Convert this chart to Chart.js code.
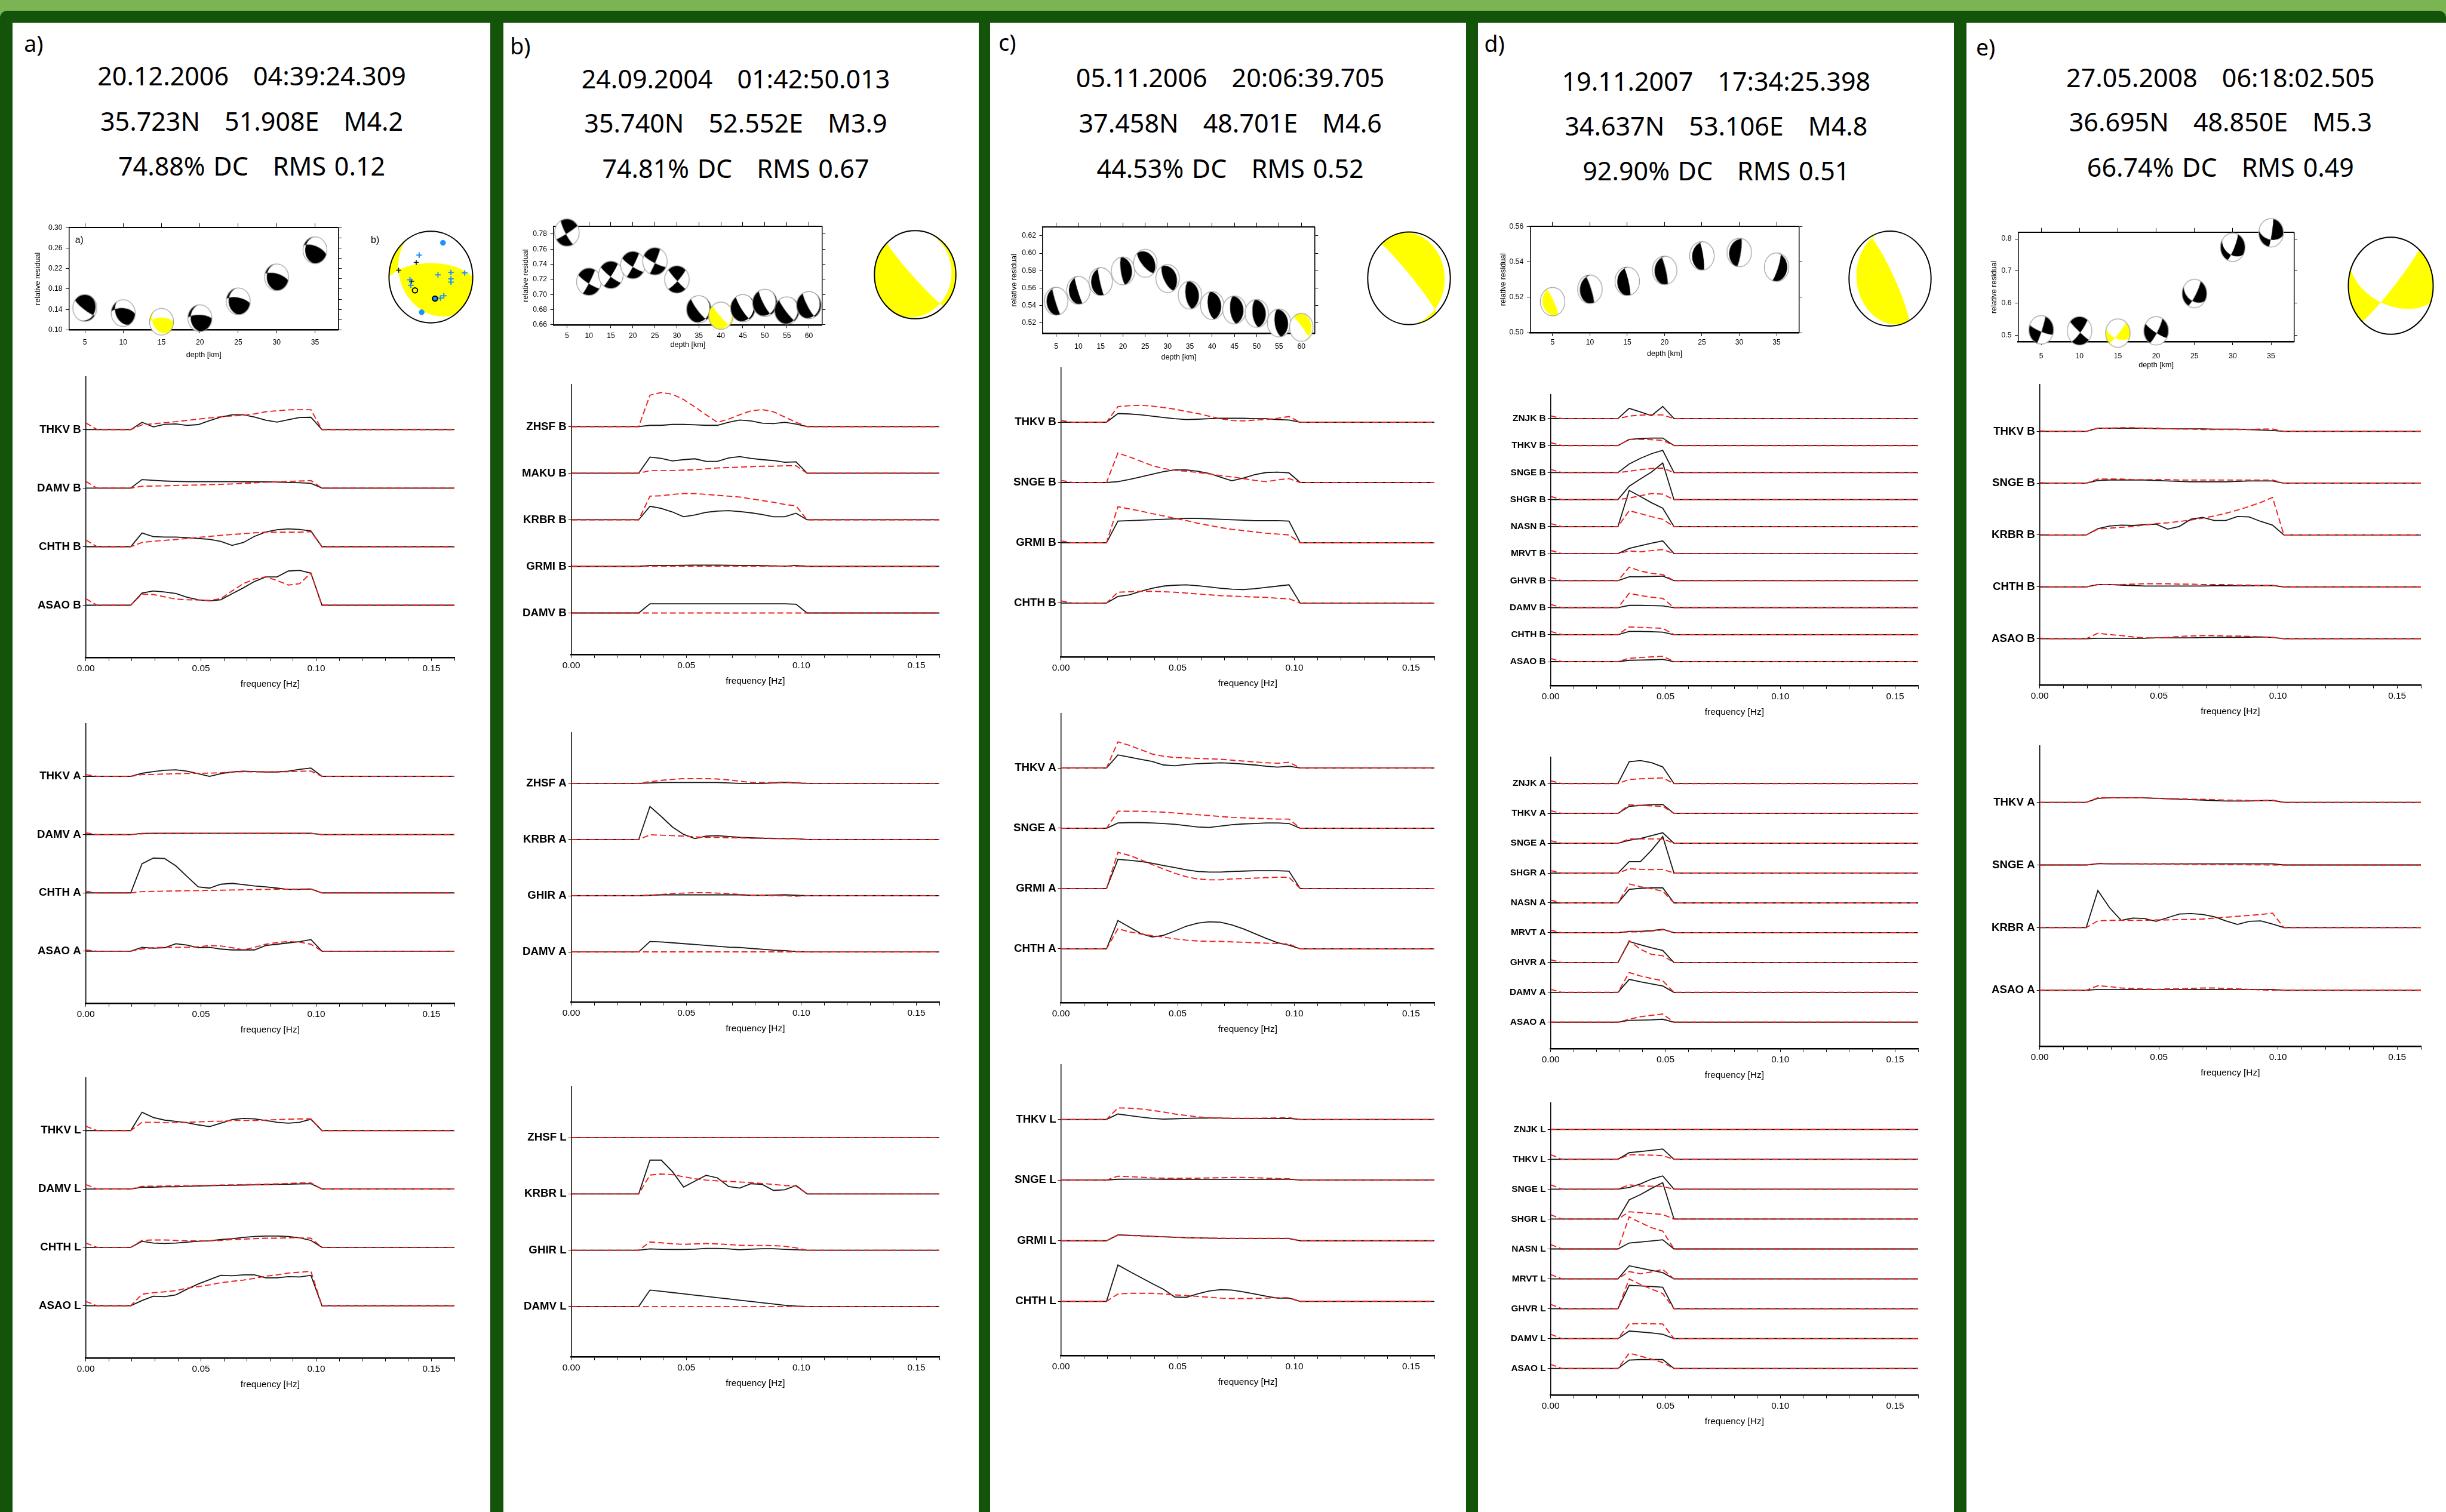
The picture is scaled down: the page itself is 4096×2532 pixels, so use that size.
<!DOCTYPE html>
<html>
<head>
<meta charset="utf-8">
<title>Moment tensor solutions - spectral fits</title>
<script src="https://cdn.jsdelivr.net/npm/chart.js@4.4.1/dist/chart.umd.min.js"></script>
<style>
  html, body { margin: 0; padding: 0; }
  body { width: 4096px; height: 2532px; overflow: hidden; position: relative; background: #7ab453; }
  #bg { position: absolute; left: 0; top: 18px; width: 4096px; height: 2514px; background: #13530a; border-radius: 12px 12px 0 0; }
  .panel { position: absolute; background: #fff; }
  .hdr { position: absolute; white-space: pre; transform: translate(-50%, -50%); color: #000; font-family: "Noto Sans", "Open Sans", sans-serif; word-spacing: 2.5px; }
  .lbl { position: absolute; white-space: pre; transform: translate(0, -50%); color: #000; }
  canvas { position: absolute; }
</style>
</head>
<body>
<div id="bg"></div>
<script>
// =========================================
// DATA
// =========================================

// frequency samples (Hz) of the spectra, plus right end of the axis
const FREQ = [0, 0.0049, 0.0098, 0.0146, 0.0195, 0.0244, 0.0293, 0.0342, 0.0391, 0.0439, 0.0488,
              0.0537, 0.0586, 0.0635, 0.0684, 0.0732, 0.0781, 0.0830, 0.0879, 0.0928, 0.0977, 0.1025];
const F_END = 0.16;

// passband (indices into FREQ) of each event
const BAND_A = [4, 21];
const BAND_B = [6, 21];
const BAND_C = [4, 21];
const BAND_D = [6, 11];
const BAND_E = [4, 21];

// event headers
const PANEL_IDS = ['a)', 'b)', 'c)', 'd)', 'e)'];
const DATES = ['20.12.2006   04:39:24.309', '24.09.2004   01:42:50.013', '05.11.2006   20:06:39.705',
               '19.11.2007   17:34:25.398', '27.05.2008   06:18:02.505'];
const LOCS = ['35.723N   51.908E   M4.2', '35.740N   52.552E   M3.9', '37.458N   48.701E   M4.6',
              '34.637N   53.106E   M4.8', '36.695N   48.850E   M5.3'];
const FITS = ['74.88% DC   RMS 0.12', '74.81% DC   RMS 0.67', '44.53% DC   RMS 0.52',
              '92.90% DC   RMS 0.51', '66.74% DC   RMS 0.49'];

// ---- event a) spectra: observed (black) / synthetic (red), values inside the band ----
const A_B_NAMES = ['THKV B', 'DAMV B', 'CHTH B', 'ASAO B'];
const A_B_OBS = [
  [0.125, 0.047, 0.09, 0.097, 0.072, 0.086, 0.154, 0.215, 0.254, 0.254, 0.215, 0.161, 0.129, 0.168, 0.208, 0.211],
  [0.147, 0.133, 0.122, 0.115, 0.111, 0.111, 0.111, 0.111, 0.11, 0.109, 0.108, 0.108, 0.104, 0.097, 0.093, 0.082],
  [0.233, 0.172, 0.165, 0.165, 0.154, 0.14, 0.125, 0.09, 0.022, 0.072, 0.176, 0.251, 0.29, 0.305, 0.294, 0.269],
  [0.208, 0.244, 0.226, 0.2, 0.136, 0.093, 0.072, 0.093, 0.197, 0.297, 0.405, 0.484, 0.484, 0.584, 0.595, 0.548]
];
const A_B_SYN = [
  [0.082, 0.1, 0.118, 0.136, 0.158, 0.179, 0.2, 0.219, 0.233, 0.244, 0.269, 0.305, 0.323, 0.337, 0.34, 0.34],
  [0.032, 0.036, 0.04, 0.047, 0.05, 0.054, 0.059, 0.065, 0.072, 0.079, 0.09, 0.1, 0.108, 0.115, 0.122, 0.129],
  [0.072, 0.093, 0.108, 0.122, 0.14, 0.158, 0.176, 0.194, 0.208, 0.222, 0.237, 0.247, 0.247, 0.247, 0.247, 0.258],
  [0.19, 0.183, 0.143, 0.104, 0.093, 0.09, 0.082, 0.111, 0.244, 0.369, 0.448, 0.484, 0.423, 0.344, 0.369, 0.548]
];
const A_B_SYN0 = [0.115, 0.115, 0.115, 0.111];

const A_A_NAMES = ['THKV A', 'DAMV A', 'CHTH A', 'ASAO A'];
const A_A_OBS = [
  [0.052, 0.082, 0.104, 0.112, 0.09, 0.045, 0, 0.045, 0.075, 0.09, 0.082, 0.075, 0.075, 0.09, 0.12, 0.142],
  [0.02, 0.022, 0.022, 0.022, 0.022, 0.024, 0.024, 0.024, 0.024, 0.024, 0.024, 0.024, 0.022, 0.022, 0.022, 0.022],
  [0.5, 0.597, 0.59, 0.463, 0.284, 0.104, 0.082, 0.149, 0.164, 0.142, 0.119, 0.104, 0.082, 0.06, 0.06, 0.067],
  [0.067, 0.052, 0.06, 0.127, 0.104, 0.06, 0.067, 0.037, 0.022, 0.022, 0.022, 0.097, 0.119, 0.142, 0.164, 0.2]
];
const A_A_SYN = [
  [0.03, 0.033, 0.04, 0.045, 0.05, 0.052, 0.055, 0.06, 0.075, 0.08, 0.077, 0.075, 0.077, 0.08, 0.088, 0.09],
  [0.015, 0.016, 0.017, 0.017, 0.018, 0.018, 0.018, 0.018, 0.018, 0.02, 0.02, 0.02, 0.02, 0.02, 0.02, 0.022],
  [0.022, 0.026, 0.03, 0.034, 0.037, 0.04, 0.043, 0.046, 0.05, 0.053, 0.056, 0.06, 0.063, 0.064, 0.066, 0.067],
  [0.037, 0.06, 0.067, 0.067, 0.067, 0.075, 0.097, 0.09, 0.06, 0.022, 0.067, 0.119, 0.149, 0.164, 0.157, 0.119]
];
const A_A_SYN0 = [0.03, 0.03, 0.03, 0.02];

const A_L_NAMES = ['THKV L', 'DAMV L', 'CHTH L', 'ASAO L'];
const A_L_OBS = [
  [0.313, 0.224, 0.179, 0.157, 0.134, 0.097, 0.067, 0.127, 0.187, 0.209, 0.2, 0.172, 0.142, 0.127, 0.142, 0.194],
  [0.03, 0.03, 0.037, 0.037, 0.045, 0.052, 0.056, 0.06, 0.064, 0.067, 0.071, 0.075, 0.079, 0.082, 0.086, 0.09],
  [0.104, 0.075, 0.067, 0.075, 0.09, 0.104, 0.112, 0.134, 0.149, 0.172, 0.187, 0.194, 0.194, 0.187, 0.164, 0.119],
  [0.09, 0.164, 0.157, 0.187, 0.284, 0.373, 0.448, 0.522, 0.515, 0.53, 0.53, 0.478, 0.478, 0.5, 0.493, 0.522]
];
const A_L_SYN = [
  [0.142, 0.142, 0.134, 0.134, 0.142, 0.149, 0.157, 0.16, 0.172, 0.172, 0.172, 0.179, 0.187, 0.194, 0.2, 0.2],
  [0.045, 0.047, 0.05, 0.052, 0.055, 0.058, 0.062, 0.067, 0.07, 0.074, 0.078, 0.082, 0.088, 0.094, 0.104, 0.104],
  [0.119, 0.127, 0.127, 0.119, 0.112, 0.112, 0.112, 0.119, 0.134, 0.142, 0.149, 0.157, 0.157, 0.164, 0.164, 0.157],
  [0.2, 0.224, 0.239, 0.261, 0.3, 0.328, 0.358, 0.396, 0.418, 0.44, 0.47, 0.507, 0.53, 0.56, 0.575, 0.59]
];
const A_L_SYN0 = [0.075, 0.075, 0.075, 0.075];

// ---- event b) ----
const B_B_NAMES = ['ZHSF B', 'MAKU B', 'KRBR B', 'GRMI B', 'DAMV B'];
const B_B_OBS = [
  [0.028, 0.028, 0.047, 0.047, 0.038, 0.028, 0.028, 0.094, 0.141, 0.122, 0.075, 0.066, 0.094, 0.056],
  [0.347, 0.319, 0.263, 0.291, 0.31, 0.254, 0.254, 0.329, 0.357, 0.319, 0.291, 0.272, 0.235, 0.244],
  [0.291, 0.244, 0.169, 0.066, 0.103, 0.16, 0.188, 0.197, 0.178, 0.15, 0.113, 0.066, 0.066, 0.141],
  [0.02, 0.02, 0.02, 0.024, 0.028, 0.028, 0.028, 0.024, 0.02, 0.02, 0.016, 0.012, 0.005, 0.02],
  [0.197, 0.197, 0.197, 0.197, 0.197, 0.197, 0.197, 0.197, 0.197, 0.197, 0.197, 0.197, 0.197, 0.188]
];
const B_B_SYN = [
  [0.676, 0.732, 0.695, 0.582, 0.423, 0.254, 0.094, 0.16, 0.254, 0.338, 0.366, 0.319, 0.207, 0.094],
  [0.056, 0.056, 0.056, 0.066, 0.075, 0.094, 0.113, 0.122, 0.131, 0.141, 0.15, 0.15, 0.16, 0.16],
  [0.507, 0.516, 0.545, 0.563, 0.563, 0.545, 0.526, 0.507, 0.488, 0.451, 0.413, 0.376, 0.329, 0.3],
  [0.005, 0.005, 0.005, 0.005, 0.005, 0.005, 0.005, 0.005, 0.005, 0.005, 0.005, 0.005, 0.005, 0.005],
  [0, 0, 0, 0, 0, 0, 0, 0, 0, 0, 0, 0, 0, 0]
];
const B_B_SYN0 = [0, 0, 0, 0, 0];

const B_A_NAMES = ['ZHSF A', 'KRBR A', 'GHIR A', 'DAMV A'];
const B_A_OBS = [
  [0.008, 0.016, 0.016, 0.016, 0.016, 0.016, 0.016, 0.008, 0, 0, 0, 0.008, 0.016, 0.008],
  [0.589, 0.411, 0.225, 0.093, 0.016, 0.062, 0.07, 0.054, 0.039, 0.031, 0.023, 0.016, 0.016, 0.016],
  [0.008, 0.016, 0.016, 0.016, 0.016, 0.016, 0.016, 0.016, 0.016, 0.008, 0.008, 0.012, 0.016, 0.008],
  [0.186, 0.178, 0.163, 0.147, 0.132, 0.116, 0.1, 0.085, 0.078, 0.062, 0.047, 0.031, 0.023, 0.008]
];
const B_A_SYN = [
  [0.031, 0.054, 0.07, 0.085, 0.085, 0.085, 0.078, 0.062, 0.039, 0.016, 0.016, 0.016, 0.023, 0.016],
  [0.085, 0.078, 0.07, 0.062, 0.047, 0.039, 0.039, 0.031, 0.031, 0.023, 0.023, 0.023, 0.016, 0.016],
  [0.008, 0.023, 0.039, 0.047, 0.054, 0.054, 0.047, 0.039, 0.023, 0.008, 0.008, 0, 0, -0.008],
  [0, 0, 0, 0, 0, 0, 0, 0, 0, 0, 0, 0, 0, 0]
];
const B_A_SYN0 = [0, 0, 0, 0];

const B_L_NAMES = ['ZHSF L', 'KRBR L', 'GHIR L', 'DAMV L'];
const B_L_OBS = [
  [0, 0, 0, 0, 0, 0, 0, 0, 0, 0, 0, 0, 0, 0],
  [0.6, 0.6, 0.4, 0.123, 0.227, 0.331, 0.285, 0.131, 0.104, 0.181, 0.169, 0.062, 0.073, 0.15],
  [0.023, 0.015, 0.012, 0.012, 0.019, 0.031, 0.031, 0.023, 0.008, 0.019, 0.027, 0.027, 0.015, 0.008],
  [0.292, 0.27, 0.248, 0.225, 0.202, 0.18, 0.157, 0.135, 0.112, 0.09, 0.067, 0.045, 0.022, 0.008]
];
const B_L_SYN = [
  [0, 0, 0, 0, 0, 0, 0, 0, 0, 0, 0, 0, 0, 0],
  [0.335, 0.354, 0.342, 0.304, 0.269, 0.246, 0.231, 0.223, 0.212, 0.2, 0.185, 0.169, 0.15, 0.138],
  [0.146, 0.131, 0.115, 0.104, 0.112, 0.119, 0.112, 0.1, 0.088, 0.085, 0.085, 0.081, 0.069, 0.042],
  [0, 0, 0, 0, 0, 0, 0, 0, 0, 0, 0, 0, 0, 0]
];
const B_L_SYN0 = [0, 0, 0, 0];

// ---- event c) ----
const C_B_NAMES = ['THKV B', 'SNGE B', 'GRMI B', 'CHTH B'];
const C_B_OBS = [
  [0.144, 0.137, 0.123, 0.1, 0.079, 0.058, 0.043, 0.05, 0.058, 0.065, 0.065, 0.065, 0.058, 0.058, 0.043, 0.036],
  [0.014, 0.05, 0.094, 0.137, 0.18, 0.209, 0.209, 0.187, 0.151, 0.087, 0.029, 0.072, 0.13, 0.166, 0.173, 0.159],
  [0.36, 0.368, 0.375, 0.382, 0.39, 0.397, 0.404, 0.404, 0.397, 0.39, 0.382, 0.375, 0.368, 0.368, 0.368, 0.36],
  [0.108, 0.137, 0.195, 0.245, 0.281, 0.296, 0.303, 0.288, 0.267, 0.245, 0.231, 0.224, 0.238, 0.26, 0.281, 0.303]
];
const C_B_SYN = [
  [0.26, 0.274, 0.281, 0.267, 0.245, 0.216, 0.18, 0.144, 0.1, 0.058, 0.029, 0.022, 0.036, 0.043, 0.065, 0.094],
  [0.49, 0.425, 0.353, 0.281, 0.231, 0.202, 0.187, 0.166, 0.144, 0.115, 0.094, 0.065, 0.036, 0.014, 0.043, 0.065],
  [0.598, 0.562, 0.526, 0.483, 0.447, 0.404, 0.368, 0.324, 0.288, 0.252, 0.224, 0.202, 0.18, 0.159, 0.144, 0.13],
  [0.18, 0.187, 0.195, 0.195, 0.187, 0.18, 0.166, 0.151, 0.137, 0.123, 0.115, 0.108, 0.1, 0.094, 0.079, 0.072]
];
const C_B_SYN0 = [0.03, 0.036, 0.03, 0.036];

const C_A_NAMES = ['THKV A', 'SNGE A', 'GRMI A', 'CHTH A'];
const C_A_OBS = [
  [0.217, 0.18, 0.144, 0.108, 0.05, 0.036, 0.058, 0.072, 0.079, 0.087, 0.079, 0.065, 0.05, 0.029, 0.014, 0.029],
  [0.087, 0.094, 0.094, 0.087, 0.079, 0.065, 0.043, 0.022, 0.014, 0.036, 0.058, 0.072, 0.079, 0.087, 0.087, 0.079],
  [0.484, 0.469, 0.448, 0.419, 0.383, 0.347, 0.31, 0.282, 0.274, 0.274, 0.282, 0.289, 0.296, 0.296, 0.296, 0.289],
  [0.469, 0.361, 0.253, 0.195, 0.224, 0.296, 0.375, 0.426, 0.448, 0.44, 0.397, 0.332, 0.253, 0.173, 0.101, 0.06]
];
const C_A_SYN = [
  [0.433, 0.375, 0.303, 0.231, 0.195, 0.173, 0.166, 0.159, 0.152, 0.144, 0.13, 0.115, 0.1, 0.087, 0.079, 0.094],
  [0.282, 0.282, 0.282, 0.274, 0.267, 0.253, 0.238, 0.224, 0.21, 0.195, 0.18, 0.173, 0.166, 0.159, 0.152, 0.152],
  [0.6, 0.549, 0.477, 0.397, 0.325, 0.253, 0.195, 0.159, 0.144, 0.144, 0.159, 0.166, 0.173, 0.18, 0.188, 0.188],
  [0.332, 0.282, 0.245, 0.217, 0.195, 0.166, 0.144, 0.13, 0.123, 0.123, 0.115, 0.108, 0.101, 0.094, 0.087, 0.079]
];
const C_A_SYN0 = [0, 0, 0, 0];

const C_L_NAMES = ['THKV L', 'SNGE L', 'GRMI L', 'CHTH L'];
const C_L_OBS = [
  [0.09, 0.065, 0.039, 0.018, 0.004, 0.011, 0.018, 0.022, 0.025, 0.022, 0.018, 0.014, 0.014, 0.014, 0.014, 0.018],
  [0.014, 0.016, 0.016, 0.016, 0.014, 0.014, 0.012, 0.012, 0.012, 0.012, 0.012, 0.012, 0.012, 0.012, 0.014, 0.016],
  [0.097, 0.09, 0.082, 0.072, 0.065, 0.057, 0.05, 0.047, 0.043, 0.039, 0.039, 0.039, 0.039, 0.039, 0.039, 0.036],
  [0.6, 0.495, 0.394, 0.294, 0.2, 0.072, 0.065, 0.125, 0.172, 0.194, 0.186, 0.158, 0.122, 0.086, 0.054, 0.054]
];
const C_L_SYN = [
  [0.19, 0.186, 0.172, 0.15, 0.122, 0.09, 0.065, 0.043, 0.029, 0.025, 0.018, 0.018, 0.018, 0.022, 0.025, 0.029],
  [0.065, 0.057, 0.047, 0.036, 0.032, 0.029, 0.032, 0.032, 0.036, 0.039, 0.043, 0.043, 0.039, 0.032, 0.025, 0.022],
  [0.093, 0.086, 0.079, 0.072, 0.065, 0.057, 0.05, 0.047, 0.043, 0.043, 0.039, 0.039, 0.039, 0.039, 0.039, 0.039],
  [0.122, 0.133, 0.133, 0.133, 0.122, 0.107, 0.097, 0.082, 0.068, 0.054, 0.047, 0.047, 0.05, 0.054, 0.061, 0.061]
];
const C_L_SYN0 = [0, 0, 0, 0];

// ---- event d) ----
const D_B_NAMES = ['ZNJK B', 'THKV B', 'SNGE B', 'SHGR B', 'NASN B', 'MRVT B', 'GHVR B', 'DAMV B', 'CHTH B', 'ASAO B'];
const D_B_OBS = [
  [0.379, 0.244, 0.11, 0.447], [0.227, 0.261, 0.278, 0.278], [0.32, 0.53, 0.7, 0.826], [0.497, 0.767, 1.02, 1.356],
  [1.34, 1.112, 0.885, 0.682], [0.194, 0.295, 0.388, 0.472], [0.143, 0.143, 0.152, 0.168], [0.084, 0.084, 0.076, 0.067],
  [0.118, 0.118, 0.11, 0.093], [0.05, 0.059, 0.067, 0.084]
];
const D_B_SYN = [
  [0.093, 0.126, 0.143, 0.135], [0.227, 0.227, 0.219, 0.194], [0.05, 0.11, 0.152, 0.168], [0.059, 0.143, 0.227, 0.202],
  [0.59, 0.48, 0.37, 0.27], [0.101, 0.067, 0.11, 0.152], [0.497, 0.354, 0.27, 0.227], [0.531, 0.446, 0.388, 0.345],
  [0.286, 0.27, 0.253, 0.236], [0.126, 0.152, 0.177, 0.202]
];
const D_B_SYN0 = [0.1, 0.11, 0.118, 0.118, 0.11, 0.118, 0.118, 0.118, 0.118, 0.118];

const D_A_NAMES = ['ZNJK A', 'THKV A', 'SNGE A', 'SHGR A', 'NASN A', 'MRVT A', 'GHVR A', 'DAMV A', 'ASAO A'];
const D_A_OBS = [
  [0.735, 0.773, 0.704, 0.559], [0.237, 0.268, 0.291, 0.3], [0.1, 0.161, 0.253, 0.352], [0.383, 0.383, 0.766, 1.225],
  [0.452, 0.49, 0.505, 0.505], [0.046, 0.046, 0.069, 0.115], [0.704, 0.597, 0.498, 0.406], [0.436, 0.352, 0.283, 0.214],
  [0.061, 0.069, 0.077, 0.1]
];
const D_A_SYN = [
  [0.138, 0.161, 0.176, 0.191], [0.291, 0.268, 0.253, 0.237], [0.145, 0.145, 0.145, 0.145], [0.145, 0.122, 0.115, 0.122],
  [0.636, 0.544, 0.475, 0.39], [0.03, 0.03, 0.054, 0.1], [0.735, 0.444, 0.276, 0.23], [0.666, 0.551, 0.467, 0.39],
  [0.1, 0.184, 0.23, 0.276]
];
const D_A_SYN0 = [0.092, 0.092, 0.084, 0.084, 0.092, 0.084, 0.092, 0.1, 0];

const D_L_NAMES = ['ZNJK L', 'THKV L', 'SNGE L', 'SHGR L', 'NASN L', 'MRVT L', 'GHVR L', 'DAMV L', 'ASAO L'];
const D_L_OBS = [
  [0, 0, 0, 0], [0.222, 0.26, 0.298, 0.344], [0.054, 0.176, 0.337, 0.444], [0.643, 0.819, 1.025, 1.217],
  [0.199, 0.23, 0.268, 0.306], [0.436, 0.36, 0.283, 0.207], [0.78, 0.765, 0.742, 0.719], [0.252, 0.222, 0.191, 0.145],
  [0.283, 0.298, 0.298, 0.298]
];
const D_L_SYN = [
  [0, 0, 0, 0], [0.153, 0.145, 0.138, 0.122], [0.145, 0.107, 0.1, 0.092], [0.245, 0.214, 0.184, 0.153],
  [1.071, 0.88, 0.712, 0.597], [0.245, 0.168, 0.23, 0.314], [0.995, 0.811, 0.658, 0.505], [0.49, 0.505, 0.497, 0.49],
  [0.513, 0.413, 0.314, 0.199]
];
const D_L_SYN0 = [0, 0.153, 0.145, 0.145, 0.145, 0.145, 0.145, 0.145, 0.138];

// ---- event e) ----
const E_B_NAMES = ['THKV B', 'SNGE B', 'KRBR B', 'CHTH B', 'ASAO B'];
const E_B_OBS = [
  [0.061, 0.061, 0.061, 0.061, 0.061, 0.052, 0.048, 0.048, 0.048, 0.048, 0.044, 0.044, 0.044, 0.035, 0.026, 0.017],
  [0.052, 0.061, 0.061, 0.061, 0.061, 0.052, 0.044, 0.035, 0.026, 0.026, 0.026, 0.026, 0.035, 0.044, 0.044, 0.044],
  [0.122, 0.175, 0.192, 0.184, 0.2, 0.21, 0.114, 0.166, 0.306, 0.341, 0.28, 0.28, 0.359, 0.35, 0.262, 0.192],
  [0.044, 0.044, 0.035, 0.026, 0.017, 0.017, 0.017, 0.017, 0.017, 0.017, 0.022, 0.022, 0.022, 0.022, 0.026, 0.026],
  [0.009, 0.009, 0.009, 0.009, 0.009, 0.017, 0.017, 0.017, 0.017, 0.022, 0.026, 0.026, 0.026, 0.03, 0.035, 0.026]
];
const E_B_SYN = [
  [0.061, 0.061, 0.07, 0.07, 0.061, 0.061, 0.052, 0.044, 0.044, 0.035, 0.035, 0.035, 0.035, 0.035, 0.044, 0.044],
  [0.079, 0.079, 0.079, 0.07, 0.07, 0.07, 0.07, 0.061, 0.061, 0.061, 0.061, 0.061, 0.061, 0.061, 0.061, 0.061],
  [0.114, 0.131, 0.149, 0.166, 0.192, 0.219, 0.236, 0.262, 0.289, 0.324, 0.367, 0.42, 0.481, 0.551, 0.63, 0.726],
  [0.044, 0.044, 0.044, 0.052, 0.061, 0.061, 0.061, 0.052, 0.052, 0.044, 0.044, 0.044, 0.035, 0.035, 0.026, 0.026],
  [0.105, 0.079, 0.061, 0.035, 0.017, 0.017, 0.026, 0.044, 0.052, 0.061, 0.061, 0.052, 0.052, 0.044, 0.035, 0.026]
];
const E_B_SYN0 = [0.01, 0.01, 0.01, 0.01, 0.01];

const E_A_NAMES = ['THKV A', 'SNGE A', 'KRBR A', 'ASAO A'];
const E_A_OBS = [
  [0.065, 0.072, 0.072, 0.072, 0.072, 0.065, 0.058, 0.05, 0.043, 0.036, 0.029, 0.022, 0.022, 0.022, 0.029, 0.029],
  [0.022, 0.018, 0.018, 0.018, 0.018, 0.018, 0.018, 0.018, 0.018, 0.018, 0.018, 0.018, 0.018, 0.018, 0.018, 0.018],
  [0.593, 0.318, 0.116, 0.152, 0.145, 0.101, 0.159, 0.217, 0.224, 0.21, 0.174, 0.108, 0.051, 0.101, 0.108, 0.058],
  [0.014, 0.014, 0.014, 0.014, 0.014, 0.014, 0.014, 0.014, 0.014, 0.014, 0.014, 0.014, 0.014, 0.014, 0.014, 0.014]
];
const E_A_SYN = [
  [0.072, 0.072, 0.072, 0.072, 0.072, 0.065, 0.058, 0.058, 0.05, 0.05, 0.043, 0.036, 0.036, 0.029, 0.029, 0.036],
  [0.022, 0.02, 0.02, 0.018, 0.016, 0.014, 0.013, 0.012, 0.01, 0.008, 0.007, 0.006, 0.004, 0.003, 0.002, 0],
  [0.108, 0.116, 0.116, 0.116, 0.116, 0.123, 0.123, 0.13, 0.13, 0.137, 0.152, 0.166, 0.181, 0.195, 0.21, 0.231],
  [0.072, 0.058, 0.036, 0.029, 0.022, 0.014, 0.022, 0.022, 0.029, 0.036, 0.036, 0.029, 0.022, 0.014, 0.007, 0]
];
const E_A_SYN0 = [0, 0, 0, 0];

// ---- depth tests: depth (km), relative residual, best depth ----
const DEPTH_A = [5, 10, 15, 20, 25, 30, 35];
const RESID_A = [0.143, 0.133, 0.116, 0.123, 0.156, 0.203, 0.256];
const BEST_A = 15;
const DEPTH_B = [5, 10, 15, 20, 25, 30, 35, 40, 45, 50, 55, 60];
const RESID_B = [0.782, 0.717, 0.726, 0.739, 0.744, 0.72, 0.6805, 0.672, 0.682, 0.689, 0.679, 0.686];
const BEST_B = 40;
const DEPTH_C = [5, 10, 15, 20, 25, 30, 35, 40, 45, 50, 55, 60];
const RESID_C = [0.545, 0.5575, 0.5675, 0.5797, 0.5885, 0.571, 0.552, 0.54, 0.535, 0.531, 0.52, 0.515];
const BEST_C = 60;
const DEPTH_D = [5, 10, 15, 20, 25, 30, 35];
const RESID_D = [0.5175, 0.5245, 0.529, 0.5352, 0.5434, 0.5453, 0.537];
const BEST_D = 5;
const DEPTH_E = [5, 10, 15, 20, 25, 30, 35];
const RESID_E = [0.517, 0.514, 0.507, 0.514, 0.63, 0.774, 0.819];
const BEST_E = 15;

// ---- mechanisms: [strike1, dip1, strike2, dip2, x, y of a point inside the filled quadrant] ----
const MECH_A = [[125, 80, 30, 15, 0.4, 0.4], [275, 60, 150, 40, 0.3, -0.3], [270, 65, 144, 31, 0.2, -0.3],
  [272, 70, 175, 25, 0.3, -0.3], [280, 68, 175, 22, 0.3, -0.3], [285, 68, 175, 20, 0.3, -0.3], [290, 65, 180, 20, 0.3, -0.3]];
const MECH_B = [[150, 80, 60, 85, 0.3, 0.3], [30, 85, 120, 80, 0, 0.5], [35, 85, 125, 80, 0, 0.5], [30, 85, 120, 80, 0, 0.5],
  [25, 85, 115, 80, 0, 0.5], [45, 80, 135, 85, 0, 0.5], [140, 80, 30, 15, -0.4, 0], [136, 85, 20, 13, -0.4, 0],
  [145, 80, 25, 15, -0.4, 0], [150, 80, 30, 15, -0.4, 0], [140, 82, 20, 12, -0.4, 0], [150, 80, 30, 15, -0.4, 0]];
const MECH_C = [[160, 85, 180, 20, -0.3, 0], [160, 85, 180, 20, -0.3, 0], [165, 85, 185, 20, -0.3, 0.1], [170, 75, 350, 25, 0.1, 0],
  [135, 70, 315, 25, 0.2, 0.2], [150, 65, 330, 25, 0.2, 0.1], [170, 60, 350, 25, 0.2, 0], [170, 60, 350, 25, 0.2, 0],
  [172, 60, 352, 25, 0.2, 0], [172, 60, 352, 25, 0.2, 0], [170, 60, 350, 25, 0.2, 0], [318, 85, 355, 15, 0.3, 0.2]];
const MECH_D = [[332, 82, 165, 20, -0.3, 0], [340, 82, 190, 20, -0.2, 0], [345, 82, 190, 20, -0.2, 0], [345, 82, 190, 20, -0.2, 0],
  [350, 82, 190, 22, -0.2, 0], [10, 80, 200, 20, -0.1, 0], [20, 80, 0, 15, 0.3, -0.3]];
const MECH_E = [[20, 85, 110, 80, 0.5, -0.1], [40, 80, 130, 85, 0, 0.5], [42, 85, 110, 57, 0.4, 0], [30, 80, 120, 80, 0.4, 0.3],
  [30, 80, 120, 45, 0.4, -0.3], [25, 80, 120, 45, 0.4, -0.3], [10, 85, 100, 50, 0.4, 0]];
const FOCAL = [[270, 65, 144, 31, 0.2, -0.3], [136, 85, 20, 13, -0.4, 0], [318, 85, 355, 15, 0.3, 0.2],
  [332, 82, 165, 20, -0.3, 0], [42, 85, 110, 57, 0.4, 0]];

// station symbols on the focal sphere of event a)
const A_BLUE_DOTS = [[0.29, 0.75], [0.1, -0.47], [-0.22, -0.77]];
const A_BLUE_CROSSES = [[-0.28, 0.48], [-0.5, -0.06], [-0.48, -0.18], [0.17, 0.05], [0.48, 0.1], [0.48, -0.04],
  [0.48, -0.11], [0.81, 0.09], [0.23, -0.46], [0.31, -0.41]];
const A_BLACK_CROSSES = [[-0.35, 0.32], [-0.77, 0.15], [-0.46, -0.09]];
const A_OPEN_CIRCLES = [[-0.38, -0.29], [0.1, -0.47]];

// =========================================
// LAYOUT (reference pixels, scaled by S)
// =========================================
const S = 4096 / 4382;
const YELLOW = '#ffff00';
const PANEL_X = [[23, 878], [902, 1753], [1774, 2626], [2648, 3501], [3523, 4400]];
const PANEL_TOP = 41;
const HDR_X = [451, 1318, 2204, 3074.5, 3978];
const HDR_Y = [[135, 216, 296], [140, 219.5, 300.5], [138, 219.5, 300.5], [144, 225, 304.5], [138, 217.5, 298.5]];
const ID_POS = [[43, 77], [914, 81], [1789, 75], [2659, 77], [3540, 83]];

const GROUPS = [
  {names: A_B_NAMES, obs: A_B_OBS, syn: A_B_SYN, syn0: A_B_SYN0, band: BAND_A, x0: 154, x1: 814, top: 666, axis: 1178, fs: 20},
  {names: A_A_NAMES, obs: A_A_OBS, syn: A_A_SYN, syn0: A_A_SYN0, band: BAND_A, x0: 154, x1: 814, top: 1288, axis: 1798.5, fs: 20},
  {names: A_L_NAMES, obs: A_L_OBS, syn: A_L_SYN, syn0: A_L_SYN0, band: BAND_A, x0: 154, x1: 814, top: 1922, axis: 2433, fs: 20},
  {names: B_B_NAMES, obs: B_B_OBS, syn: B_B_SYN, syn0: B_B_SYN0, band: BAND_B, x0: 1024, x1: 1683, top: 680, axis: 1172.5, fs: 20},
  {names: B_A_NAMES, obs: B_A_OBS, syn: B_A_SYN, syn0: B_A_SYN0, band: BAND_B, x0: 1024, x1: 1683, top: 1304, axis: 1796, fs: 20},
  {names: B_L_NAMES, obs: B_L_OBS, syn: B_L_SYN, syn0: B_L_SYN0, band: BAND_B, x0: 1024, x1: 1683, top: 1938, axis: 2430.7, fs: 20},
  {names: C_B_NAMES, obs: C_B_OBS, syn: C_B_SYN, syn0: C_B_SYN0, band: BAND_C, x0: 1901, x1: 2570, top: 650, axis: 1177, fs: 20},
  {names: C_A_NAMES, obs: C_A_OBS, syn: C_A_SYN, syn0: C_A_SYN0, band: BAND_C, x0: 1901, x1: 2570, top: 1270, axis: 1797.5, fs: 20},
  {names: C_L_NAMES, obs: C_L_OBS, syn: C_L_SYN, syn0: C_L_SYN0, band: BAND_C, x0: 1901, x1: 2570, top: 1898.5, axis: 2428.3, fs: 20},
  {names: D_B_NAMES, obs: D_B_OBS, syn: D_B_SYN, syn0: D_B_SYN0, band: BAND_D, x0: 2778, x1: 3436, top: 700, axis: 1229, fs: 16.5},
  {names: D_A_NAMES, obs: D_A_OBS, syn: D_A_SYN, syn0: D_A_SYN0, band: BAND_D, x0: 2778, x1: 3436, top: 1349, axis: 1879, fs: 16.5},
  {names: D_L_NAMES, obs: D_L_OBS, syn: D_L_SYN, syn0: D_L_SYN0, band: BAND_D, x0: 2778, x1: 3436, top: 1969, axis: 2500, fs: 16.5},
  {names: E_B_NAMES, obs: E_B_OBS, syn: E_B_SYN, syn0: E_B_SYN0, band: BAND_E, x0: 3654, x1: 4337, top: 680, axis: 1227, fs: 20},
  {names: E_A_NAMES, obs: E_A_OBS, syn: E_A_SYN, syn0: E_A_SYN0, band: BAND_E, x0: 3654, x1: 4337, top: 1328, axis: 1875.5, fs: 20}
];

const DEPTH_PLOTS = [
  {depth: DEPTH_A, resid: RESID_A, mech: MECH_A, best: BEST_A, l: 124, r: 606, t: 408, b: 591, xMin: 2.96, xMax: 38.05,
   yMin: 0.1, yMax: 0.3, yStep: 0.02, dec: 2, titleGap: 56, labOff: 22, titleOff: 45, brx: 21.5, bry: 24},
  {depth: DEPTH_B, resid: RESID_B, mech: MECH_B, best: BEST_B, l: 992, r: 1473, t: 406, b: 582.5, xMin: 2, xMax: 63,
   yMin: 0.66, yMax: 0.79, yStep: 0.02, dec: 2, titleGap: 50, labOff: 19, titleOff: 36, brx: 22, bry: 24.5},
  {depth: DEPTH_C, resid: RESID_C, mech: MECH_C, best: BEST_C, l: 1868, r: 2355, t: 406.5, b: 597, xMin: 2, xMax: 63,
   yMin: 0.508, yMax: 0.63, yStep: 0.02, dec: 2, titleGap: 51, labOff: 23, titleOff: 43, brx: 21, bry: 25},
  {depth: DEPTH_D, resid: RESID_D, mech: MECH_D, best: BEST_D, l: 2741, r: 3223, t: 406, b: 596, xMin: 2, xMax: 38,
   yMin: 0.5, yMax: 0.56, yStep: 0.02, dec: 2, titleGap: 48, labOff: 17, titleOff: 38, brx: 22, bry: 25.5},
  {depth: DEPTH_E, resid: RESID_E, mech: MECH_E, best: BEST_E, l: 3615.5, r: 4110, t: 416, b: 612, xMin: 2, xMax: 38,
   yMin: 0.48, yMax: 0.82, yStep: 0.1, dec: 1, titleGap: 43, labOff: 25, titleOff: 42, brx: 22, bry: 25.5}
];

const FOCAL_POS = [
  {cx: 772, cy: 497, rx: 75, ry: 82}, {cx: 1640, cy: 492, rx: 73, ry: 79}, {cx: 2524, cy: 499, rx: 74, ry: 83},
  {cx: 3386, cy: 499, rx: 73.5, ry: 85}, {cx: 4283, cy: 512, rx: 76, ry: 87}
];

// =========================================
// HELPERS
// =========================================
Chart.defaults.font.family = "'Liberation Sans', Arial, sans-serif";
Chart.defaults.color = '#000';

function addDiv(cls, x, y, text, size) {
  const d = document.createElement('div');
  d.className = cls;
  d.style.left = (x * S) + 'px';
  d.style.top = (y * S) + 'px';
  d.style.fontSize = (size * S) + 'px';
  d.textContent = text;
  document.body.appendChild(d);
  return d;
}

function addCanvas(x, y, w, h) {
  const c = document.createElement('canvas');
  c.width = Math.round(w);
  c.height = Math.round(h);
  c.style.left = Math.round(x) + 'px';
  c.style.top = Math.round(y) + 'px';
  c.style.width = c.width + 'px';
  c.style.height = c.height + 'px';
  document.body.appendChild(c);
  return c;
}

// spectrum polyline: flat baseline outside the band
function tracePoints(band, vals, v0, base) {
  const pts = [{x: FREQ[0], y: base + v0}, {x: FREQ[1], y: base}, {x: FREQ[band[0]], y: base}];
  vals.forEach((v, j) => pts.push({x: FREQ[band[0] + 1 + j], y: base + v}));
  pts.push({x: FREQ[band[1]], y: base}, {x: F_END, y: base});
  return pts;
}

// beach ball (lower hemisphere, equal area) as a point style image
function planeNormal(strike, dip) {
  const s = strike * Math.PI / 180, d = dip * Math.PI / 180;
  return [-Math.sin(d) * Math.sin(s), Math.sin(d) * Math.cos(s), -Math.cos(d)];
}
function quadrant(n1, n2, px, py) {
  const r = Math.min(1, Math.sqrt(px * px + py * py));
  const inc = 2 * Math.asin(r / Math.SQRT2);
  const az = Math.atan2(px, py);
  const v = [Math.sin(inc) * Math.cos(az), Math.sin(inc) * Math.sin(az), Math.cos(inc)];
  const a = n1[0] * v[0] + n1[1] * v[1] + n1[2] * v[2];
  const b = n2[0] * v[0] + n2[1] * v[1] + n2[2] * v[2];
  return a * b;
}
function ballCanvas(mech, rx, ry, fill, edge, edgeW) {
  const SS = 3;
  const W = Math.ceil(2 * rx) + 4, H = Math.ceil(2 * ry) + 4;
  const big = document.createElement('canvas');
  big.width = W * SS; big.height = H * SS;
  const g = big.getContext('2d');
  const img = g.createImageData(big.width, big.height);
  const n1 = planeNormal(mech[0], mech[1]), n2 = planeNormal(mech[2], mech[3]);
  const ref = Math.sign(quadrant(n1, n2, mech[4], mech[5]));
  const col = fill === YELLOW ? [255, 255, 0] : [0, 0, 0];
  const cx = big.width / 2, cy = big.height / 2;
  for (let j = 0; j < big.height; j++) {
    for (let i = 0; i < big.width; i++) {
      const px = (i + 0.5 - cx) / (rx * SS), py = -(j + 0.5 - cy) / (ry * SS);
      if (px * px + py * py > 1) continue;
      const k = (j * big.width + i) * 4;
      const on = Math.sign(quadrant(n1, n2, px, py)) === ref;
      img.data[k] = on ? col[0] : 255;
      img.data[k + 1] = on ? col[1] : 255;
      img.data[k + 2] = on ? col[2] : 255;
      img.data[k + 3] = 255;
    }
  }
  g.putImageData(img, 0, 0);
  const c = document.createElement('canvas');
  c.width = W; c.height = H;
  const ctx = c.getContext('2d');
  ctx.imageSmoothingEnabled = true;
  ctx.imageSmoothingQuality = 'high';
  ctx.drawImage(big, 0, 0, W, H);
  ctx.beginPath();
  ctx.ellipse(W / 2, H / 2, rx, ry, 0, 0, 2 * Math.PI);
  ctx.lineWidth = edgeW;
  ctx.strokeStyle = edge;
  ctx.stroke();
  return c;
}

const BASE_OPTS = {
  responsive: false, animation: false, devicePixelRatio: 1,
  plugins: {legend: {display: false}, tooltip: {enabled: false}}
};

// =========================================
// CHARTS
// =========================================
function spectraChart(g) {
  const n = g.names.length;
  const LW = 112 * S, BH = 57 * S, TP = 6, RP = 14;
  const cv = addCanvas(g.x0 * S - LW, g.top * S - TP, (g.x1 - g.x0) * S + LW + RP, (g.axis - g.top) * S + TP + BH);
  const datasets = [];
  g.names.forEach((nm, i) => {
    const base = n - i;
    datasets.push({data: tracePoints(g.band, g.syn[i], g.syn0[i], base), showLine: true, pointRadius: 0,
                   borderColor: '#ee1d1d', borderWidth: 1.9, borderDash: [10, 5], order: 0});
    datasets.push({data: tracePoints(g.band, g.obs[i], 0, base), showLine: true, pointRadius: 0,
                   borderColor: '#151515', borderWidth: 1.8, order: 1});
  });
  new Chart(cv, {
    type: 'scatter',
    data: {datasets},
    options: {
      ...BASE_OPTS,
      layout: {padding: {top: TP, right: RP, left: 0, bottom: 0}, autoPadding: false},
      scales: {
        x: {
          type: 'linear', min: 0, max: F_END,
          afterFit: (sc) => { sc.height = BH; },
          ticks: {stepSize: 0.01, autoSkip: false, maxRotation: 0, padding: 4, font: {size: 15.4},
                  callback: (v) => { const c = Math.round(v * 100); return c % 5 === 0 ? (c / 100).toFixed(2) : ''; }},
          grid: {drawOnChartArea: false, tickLength: 5, color: '#000', lineWidth: 1},
          border: {color: '#000', width: 2.5},
          title: {display: true, text: 'frequency [Hz]', font: {size: 15.4}, padding: {top: 0, bottom: 0}}
        },
        y: {
          type: 'linear', min: 0.1, max: n + 0.9,
          afterFit: (sc) => { sc.width = LW; },
          afterBuildTicks: (sc) => { sc.ticks = g.names.map((_, i) => ({value: i + 1})); },
          ticks: {padding: 3, font: {size: g.fs * S, weight: 'bold'}, callback: (v) => g.names[n - Math.round(v)]},
          grid: {drawOnChartArea: false, tickLength: 5, color: '#000'},
          border: {color: '#000', width: 1.5}
        }
      }
    }
  });
}

function depthChart(L) {
  const LW = (L.titleGap + 8) * S, TH = 42 * S, RW = 24 * S, BH = (L.titleOff + 8) * S;
  const cv = addCanvas(L.l * S - LW, L.t * S - TH, (L.r - L.l) * S + LW + RW, (L.b - L.t) * S + TH + BH);
  const balls = L.depth.map((d, i) => ballCanvas(L.mech[i], L.brx * S, L.bry * S, d === L.best ? YELLOW : '#000', '#9c9c9c', 1.2));
  const tickFont = {size: 13 * S};
  const ySc = {min: L.yMin, max: L.yMax};
  const xSc = {min: L.xMin, max: L.xMax};
  new Chart(cv, {
    type: 'scatter',
    data: {datasets: [{data: L.depth.map((d, i) => ({x: d, y: L.resid[i]})), pointStyle: balls,
                       pointRadius: L.brx * S, clip: false}]},
    options: {
      ...BASE_OPTS,
      layout: {padding: 0, autoPadding: false},
      scales: {
        x: {type: 'linear', position: 'bottom', ...xSc, afterFit: (sc) => { sc.height = BH; },
            ticks: {stepSize: 5, includeBounds: false, autoSkip: false, maxRotation: 0,
                    padding: Math.max(1, (L.labOff - 6 - 7) * S), font: tickFont},
            grid: {drawOnChartArea: false, tickLength: 6 * S, color: '#000'},
            border: {color: '#000', width: 2.5},
            title: {display: true, text: 'depth [km]', font: {size: 13.5 * S}, padding: 0}},
        xt: {type: 'linear', position: 'top', ...xSc, afterFit: (sc) => { sc.height = TH; },
             ticks: {display: false, stepSize: 5, includeBounds: false},
             grid: {drawOnChartArea: false, tickLength: 8 * S, color: '#000'},
             border: {color: '#000', width: 2}},
        y: {type: 'linear', position: 'left', ...ySc, afterFit: (sc) => { sc.width = LW; },
            ticks: {stepSize: L.yStep, includeBounds: false, padding: 6 * S, font: tickFont,
                    callback: (v) => v.toFixed(L.dec)},
            grid: {drawOnChartArea: false, tickLength: 6 * S, color: '#000'},
            border: {color: '#000', width: 1.5},
            title: {display: true, text: 'relative residual', font: {size: 13.5 * S}, padding: 0}},
        yr: {type: 'linear', position: 'right', ...ySc, afterFit: (sc) => { sc.width = RW; },
             ticks: {display: false, stepSize: L.yStep, includeBounds: false},
             grid: {drawOnChartArea: false, tickLength: 6 * S, color: '#000'},
             border: {color: '#000', width: 1.5}}
      }
    }
  });
}

function focalChart(pos, mech, withStations) {
  const M = 1.15;
  const rx = pos.rx * S, ry = pos.ry * S;
  const cv = addCanvas((pos.cx - pos.rx * M) * S, (pos.cy - pos.ry * M) * S, 2 * rx * M, 2 * ry * M);
  const ball = ballCanvas(mech, rx, ry, YELLOW, '#000', 2);
  const toPts = (arr) => arr.map((p) => ({x: p[0], y: p[1]}));
  const datasets = [{data: [{x: 0, y: 0}], pointStyle: ball, pointRadius: 5, clip: false, order: 9}];
  if (withStations) {
    datasets.push({data: toPts(A_BLUE_DOTS), pointStyle: 'circle', pointRadius: 4.6 * S,
                   backgroundColor: '#1e90ff', borderColor: '#1e90ff', borderWidth: 1, order: 2});
    datasets.push({data: toPts(A_OPEN_CIRCLES), pointStyle: 'circle', pointRadius: 4.6 * S,
                   backgroundColor: 'rgba(0,0,0,0)', borderColor: '#000', borderWidth: 2, order: 1});
    datasets.push({data: toPts(A_BLUE_CROSSES), pointStyle: 'cross', pointRadius: 5 * S,
                   borderColor: '#1e90ff', borderWidth: 2, order: 0});
    datasets.push({data: toPts(A_BLACK_CROSSES), pointStyle: 'cross', pointRadius: 4.5 * S,
                   borderColor: '#111', borderWidth: 1.5, order: 0});
  }
  new Chart(cv, {
    type: 'scatter',
    data: {datasets},
    options: {
      ...BASE_OPTS,
      layout: {padding: 0, autoPadding: false},
      scales: {x: {display: false, min: -M, max: M}, y: {display: false, min: -M, max: M}}
    }
  });
}

// =========================================
// BUILD PAGE
// =========================================
PANEL_X.forEach(([x0, x1]) => {
  const p = document.createElement('div');
  p.className = 'panel';
  p.style.left = (x0 * S) + 'px';
  p.style.top = (PANEL_TOP * S) + 'px';
  p.style.width = ((x1 - x0) * S) + 'px';
  p.style.height = (2532 - PANEL_TOP * S) + 'px';
  document.body.appendChild(p);
});

PANEL_IDS.forEach((id, i) => {
  addDiv('lbl', ID_POS[i][0], ID_POS[i][1], id, 40).style.fontFamily = '"Noto Sans", sans-serif';
  addDiv('hdr', HDR_X[i], HDR_Y[i][0], DATES[i], 46);
  addDiv('hdr', HDR_X[i], HDR_Y[i][1], LOCS[i], 46);
  addDiv('hdr', HDR_X[i], HDR_Y[i][2], FITS[i], 46);
});

GROUPS.forEach(spectraChart);
DEPTH_PLOTS.forEach(depthChart);
FOCAL_POS.forEach((pos, i) => focalChart(pos, FOCAL[i], i === 0));

// sub-figure letters inside event a)
const subA = addDiv('hdr', 142, 430, 'a)', 17);
subA.style.fontFamily = "'Liberation Sans', sans-serif";
subA.style.wordSpacing = '0';
const subB = addDiv('hdr', 672, 430, 'b)', 17);
subB.style.fontFamily = "'Liberation Sans', sans-serif";
subB.style.wordSpacing = '0';
</script>
</body>
</html>
